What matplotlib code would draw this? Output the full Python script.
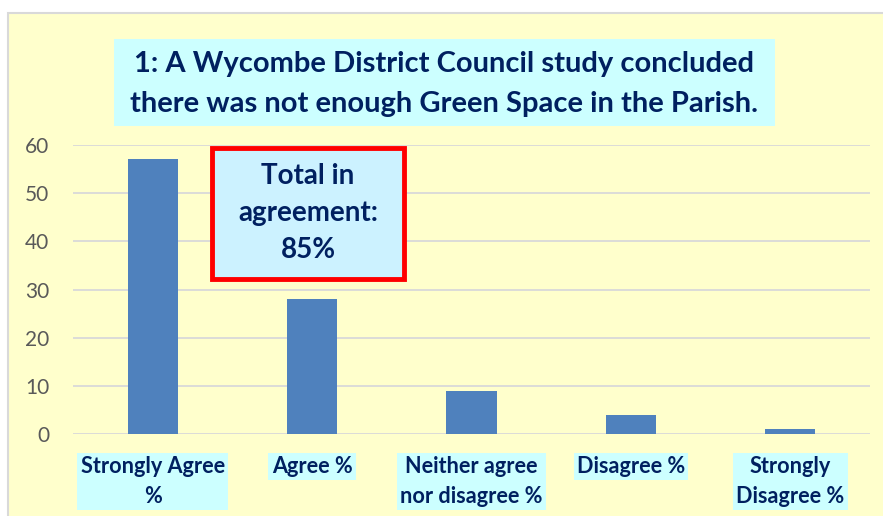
import matplotlib
matplotlib.use("Agg")
import matplotlib.pyplot as plt
from matplotlib.patches import Rectangle

# === Данные ===
categories = ["Strongly Agree\n%", "Agree %", "Neither agree\nnor disagree %",
              "Disagree %", "Strongly\nDisagree %"]
values = [57, 28, 9, 4, 1]
yticks = [0, 10, 20, 30, 40, 50, 60]
title = "1: A Wycombe District Council study concluded\nthere was not enough Green Space in the Parish."
note = "Total in\nagreement:\n85%"

NAVY = "#002060"
plt.rcParams["font.family"] = ["Lato", "DejaVu Sans"]

W, H = 883, 516
fig = plt.figure(figsize=(W / 100, H / 100), dpi=100)
fig.patch.set_facecolor("white")

def fx(x):
    return x / W

def fy(y):
    return 1 - y / H

def box(x0, y0, x1, y1, **kw):
    r = Rectangle((fx(x0), fy(y1)), fx(x1) - fx(x0), fy(y0) - fy(y1),
                  transform=fig.transFigure, **kw)
    fig.patches.append(r)

# фон области диаграммы
box(8, 13, 900, 530, facecolor="#FFFFCC", edgecolor="#D9D9D9", lw=1.5, zorder=-5)

ax = fig.add_axes([fx(73), fy(434.3), fx(870) - fx(73), fy(144.7) - fy(434.3)])
ax.set_facecolor("none")
x = list(range(len(values)))
ax.bar(x, values, width=0.314, color="#4F81BD", zorder=3)
ax.set_xlim(-0.5, len(values) - 0.5)
ax.set_ylim(0, 60)
ax.set_yticks(yticks)
ax.grid(axis="y", color="#D9D9D9", lw=1.3, zorder=0)
ax.set_axisbelow(True)
for s in ax.spines.values():
    s.set_visible(False)
ax.tick_params(axis="y", length=0, pad=17, labelsize=15, labelcolor="#595959")
ax.tick_params(axis="x", length=0, pad=15.5)
ax.set_xticks(x)
ax.set_xticklabels(categories, fontsize=15.6, fontweight="bold", color=NAVY,
                   linespacing=1.55, va="top")
for lab in ax.get_xticklabels():
    lab.set_multialignment("center")
    lab.set_bbox(dict(boxstyle="square,pad=0.15", fc="#CCFFFF", ec="none"))

# заголовок
box(114, 39, 775, 126, facecolor="#CCFFFF", edgecolor="none", zorder=1)
fig.text(fx(444.5), fy(84), title, ha="center", va="center", fontsize=21,
         fontweight="bold", color=NAVY, linespacing=1.7, zorder=2)

# рамка с итогом
box(212, 148, 404, 279, facecolor="#CCF2FF", edgecolor="#FF0000", lw=3.5, zorder=4)
fig.text(fx(308), fy(213), note, ha="center", va="center", fontsize=20,
         fontweight="bold", color=NAVY, linespacing=1.52, zorder=5)

fig.savefig("out.png", dpi=100)
